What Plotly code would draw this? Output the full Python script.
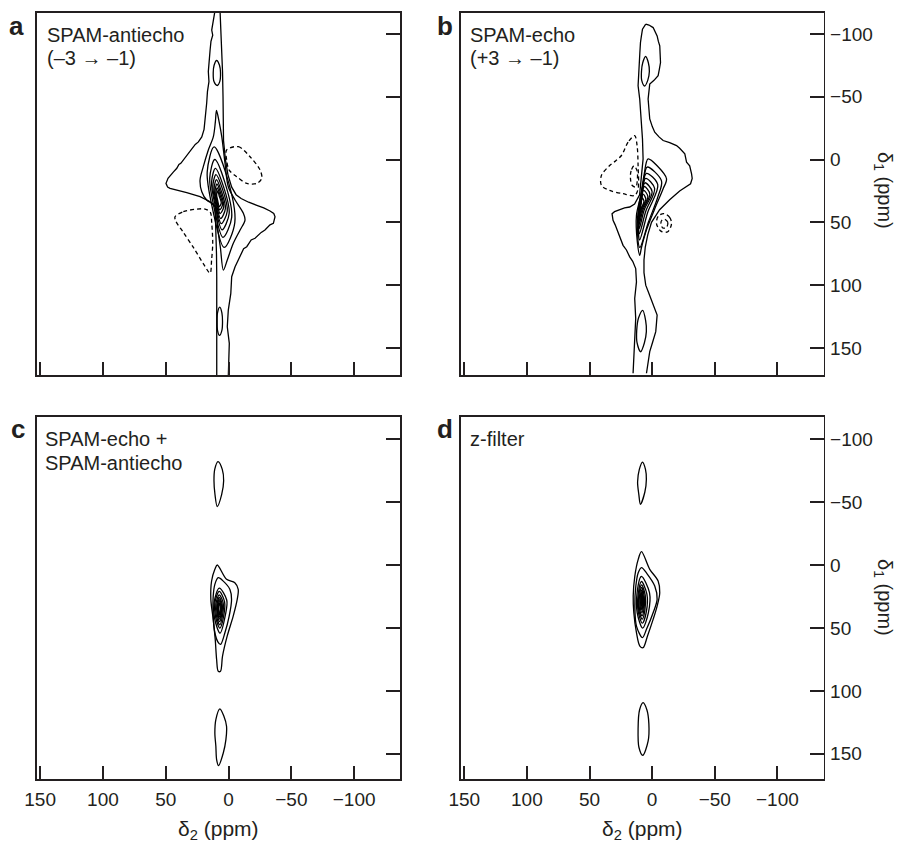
import plotly.graph_objects as go

# ---------------- axis ticks / labels ----------------
D2_TICKS = [150, 100, 50, 0, -50, -100]
D2_TICKTEXT = ["150", "100", "50", "0", "\u221250", "\u2212100"]
D1_TICKS = [-100, -50, 0, 50, 100, 150]
D1_TICKTEXT = ["\u2212100", "\u221250", "0", "50", "100", "150"]

PANEL_LETTERS = ["a", "b", "c", "d"]
PANEL_TEXT = [["SPAM-antiecho", "(\u20133 \u2192 \u20131)"],
              ["SPAM-echo", "(+3 \u2192 \u20131)"],
              ["SPAM-echo +", "SPAM-antiecho"],
              ["z-filter"]]
X_TITLE = "\u03b4<sub>2</sub> (ppm)"
Y_TITLE = "\u03b4<sub>1</sub> (ppm)"

# ---------------- contour traces, (delta2, delta1) in ppm ----------------
# Panel a : SPAM-antiecho
A_OUTER_LEFT = [(10.7, -119), (12.5, -110), (13.4, -103), (12.6, -99), (14.0, -94), (14.7, -87),
                (15.2, -80), (16.1, -70), (15.6, -62), (16.8, -54), (17.4, -45), (18.0, -38),
                (18.7, -31), (19.5, -24), (21.3, -18), (24.0, -14), (26.5, -12), (28.0, -10),
                (31.0, -6), (32.5, -4), (34.6, -1), (38.0, 3), (39.5, 4), (41.2, 7), (44.0, 10),
                (46.6, 13.7), (48.2, 15), (49.8, 19), (48.5, 22), (46.6, 23), (40.0, 24.5),
                (33.3, 26.4), (22.7, 29.6), (14.7, 33.6), (10.7, 37.6), (10.0, 53.5),
                (9.6, 75), (9.4, 93), (9.4, 133), (9.4, 173)]
A_OUTER_RIGHT = [(6.8, -119), (5.8, -100), (5.4, -88), (4.8, -70), (4.4, -50), (4.1, -30),
                 (4.0, -15), (2.5, 0), (0.5, 12), (-2.5, 22), (-6.0, 28), (-10.0, 31),
                 (-16.0, 34), (-22.5, 36.5), (-28.0, 38.5), (-33.0, 41), (-36.0, 43), (-37.0, 45.5),
                 (-35.7, 50.8), (-33.0, 52), (-29.0, 56.1), (-26.0, 58), (-21.1, 62.7), (-18.0, 64),
                 (-14.5, 69.4), (-12.0, 71), (-9.2, 77.4), (-5.2, 85.4), (-2.5, 93.3), (-1.8, 106.5),
                 (0.2, 119.8), (1.0, 133.1), (-0.6, 146.3), (0.2, 162.3), (0.2, 173)]
A_SIDEBANDS = [
    [(9.5, -78.8), (11.5, -75), (12.2, -69), (11.6, -62), (9.0, -58.9), (7.0, -62), (6.4, -69), (7.2, -75)],
    [(7.0, 117.5), (8.8, 122), (9.1, 129), (8.8, 136), (7.2, 140), (5.3, 136), (4.8, 129), (5.3, 122)],
]
A_CORE = [
    [(9.6, -39), (10.5, -30), (12.1, -18.2), (16.1, -7.6), (20.1, 5.7), (22.7, 16.3), (21.3, 25.6),
     (17.4, 32.2), (10.5, 37), (8.8, 53.5), (6.5, 70), (4.1, 88), (1.0, 80), (-3.8, 66.7),
     (-9.2, 56.1), (-13.1, 48.2), (-11.8, 42.8), (-5.2, 32.2), (0.2, 21.7), (2.8, 3.0),
     (5.4, -18.2), (7.5, -30)],
    [(11.5, -10), (17.0, 10), (13.0, 38), (3.5, 70), (-5.0, 50), (1.8, 12)],
    [(11.0, 0), (15.0, 15), (12.0, 36), (4.5, 62), (-2.5, 46), (3.0, 18)],
    [(10.5, 7), (13.5, 18), (11.0, 35), (5.2, 56), (-0.5, 43), (4.2, 21)],
    [(10.0, 12), (12.5, 21), (10.5, 34), (5.8, 51), (1.0, 41), (5.0, 23)],
    [(9.6, 16), (11.5, 23), (10.0, 33.5), (6.3, 47), (2.5, 39), (5.8, 25)],
    [(9.2, 19.5), (10.8, 25), (9.6, 33), (6.7, 43), (3.8, 37.5), (6.4, 26.5)],
    [(8.9, 22.5), (10.1, 26.5), (9.2, 32.5), (7.0, 40), (4.8, 36), (6.9, 28)],
    [(8.6, 25), (9.5, 28), (8.8, 32), (7.3, 37.5), (5.8, 34.5), (7.3, 29.5)],
]
A_NEGATIVE = [
    [(1.5, -7.6), (-7.8, -10.2), (-17.1, -2.2), (-25.1, 8.4), (-26.4, 15), (-22.5, 19),
     (-14.5, 19), (-6.5, 13.7), (-0.5, 8.4), (1.5, 0.4)],
    [(42.6, 45.5), (36.0, 41.5), (30.7, 40.2), (18.7, 39.4), (14.5, 42.0), (13.4, 50.6),
     (12.6, 66.5), (13.5, 80), (14.7, 90.4), (20.0, 83), (28.0, 70), (36.0, 58), (42.0, 49)],
]

# Panel b : SPAM-echo
B_OUTER_LEFT = [(5.1, -107.7), (7.7, -103.7), (8.6, -98), (9.3, -93.1), (9.8, -85), (10.4, -74.6),
                (10.8, -66), (11.2, -58.7), (9.9, -48.1), (8.5, -32.3), (7.7, -16.4), (7.2, -0.5),
                (8.5, 15), (10.0, 28), (14.0, 35.5), (17.9, 37.8), (22.0, 38.5), (27.2, 40.5),
                (30.0, 41.5), (32.0, 43.1), (31.2, 48.4), (29.5, 52), (27.2, 57.7), (25.5, 62),
                (23.2, 68.3), (20.5, 72), (17.9, 77.5), (15.5, 81), (13.1, 86.8), (12.5, 97.4),
                (13.9, 110.6), (13.1, 126.5), (13.9, 144.9), (15.2, 170.1)]
B_OUTER_RIGHT = [(5.1, -107.7), (2.5, -107), (-0.8, -105), (-2.5, -101), (-4.0, -98.4), (-5.0, -94),
                 (-6.1, -90.5), (-6.4, -84), (-6.7, -77.2), (-5.8, -72), (-4.8, -66.7), (-1.5, -63),
                 (1.9, -60), (3.2, -48.1), (2.6, -40), (1.9, -32.3), (-0.2, -26), (-2.1, -21.7),
                 (-5.5, -18), (-8.8, -15.1), (-14.0, -13.5), (-19.5, -11.1), (-22.0, -9),
                 (-26.1, -4.5), (-27.5, 2.1), (-30.0, 5), (-31.5, 11.4), (-32.0, 15), (-30.7, 19.3),
                 (-22.0, 25), (-14.0, 32), (-6.0, 40), (0.5, 50), (3.5, 60), (5.5, 70), (6.5, 80),
                 (6.5, 90), (5.1, 100), (2.0, 108), (-0.8, 115.9), (-4.0, 123.8), (-3.5, 130),
                 (-2.9, 137), (-0.5, 145), (1.9, 152.9), (4.5, 170.1)]
B_SIDEBANDS = [
    [(5.2, -82), (7.5, -77), (8.5, -70), (8.3, -63), (6.0, -58.5), (3.5, -63), (2.2, -70), (3.0, -77)],
    [(7.5, 120), (10.8, 126), (12.3, 136), (12.0, 146), (9.2, 153), (6.2, 146), (4.6, 137), (5.2, 128)],
]
B_CORE = [
    [(3.2, -0.5), (6.5, 12.7), (9.0, 28.6), (12.5, 44.4), (11.8, 65.6), (9.9, 76.2), (8.5, 70),
     (4.5, 56), (-2.1, 39.2), (-8.8, 23.3), (-11.5, 15.3), (-4.0, 5)],
    [(4.0, 6), (6.9, 18), (10.8, 38), (11.8, 55), (9.8, 70), (3.0, 50), (-4.5, 30), (-7.5, 17)],
    [(4.6, 11), (8.3, 26), (11.0, 50), (10.0, 64), (3.5, 42), (-4.5, 20)],
    [(5.2, 15), (8.4, 29), (10.8, 47), (10.2, 59), (5.0, 41), (-2.0, 23)],
    [(5.8, 18.5), (8.6, 31), (10.6, 45), (10.3, 55), (6.3, 40), (0.0, 25.5)],
    [(6.3, 21.5), (8.8, 32.5), (10.4, 44), (10.4, 52), (7.3, 40), (1.8, 27.5)],
    [(6.8, 24.5), (8.9, 34), (10.3, 43), (10.4, 49), (8.1, 40), (3.4, 29.5)],
    [(7.3, 27.5), (9.0, 35), (10.1, 42), (10.3, 46.5), (8.8, 40), (5.0, 31.5)],
    [(7.8, 30.5), (9.0, 36), (9.9, 41), (10.1, 44), (9.3, 40), (6.5, 33.5)],
]
B_NEGATIVE = [
    [(13.9, -19), (19.2, -13.8), (24.5, -3.2), (29.0, 1), (33.9, 4.8), (40.5, 12.7), (40.5, 20.6),
     (33.9, 24.6), (23.2, 27.2), (13.9, 28.6), (11.2, 23.3), (11.2, 4.8), (12.0, -11.1)],
    [(14.5, 5), (16.8, 9), (17.3, 15), (16.0, 20.5), (13.0, 22), (11.8, 16), (12.0, 9)],
    [(-9.5, 43), (-14.0, 46), (-15.5, 51), (-12.5, 57.5), (-7.0, 57), (-3.5, 51), (-5.0, 45)],
    [(-10.0, 47.5), (-12.5, 50), (-11.5, 54), (-8.5, 54.5), (-7.0, 51), (-8.0, 48)],
]

# Panel c : SPAM-echo + SPAM-antiecho
C_SIDEBANDS = [
    [(8.4, -82.2), (11.0, -76), (11.6, -67), (10.8, -56), (9.0, -46.5), (5.5, -56), (3.9, -67), (5.0, -76)],
    [(6.9, 114.3), (10.1, 122.8), (10.9, 133.4), (10.1, 144), (9.5, 154.6), (8.0, 159.4),
     (4.2, 149.3), (2.1, 138.7), (1.6, 128.1), (3.7, 120.2)],
]
C_CORE = [
    [(9.0, 0), (10.9, 3.4), (13.5, 12.7), (14.1, 27.3), (12.2, 43.2), (10.6, 59.2), (9.5, 75.1),
     (8.2, 84.4), (6.4, 84.4), (4.8, 72.4), (1.1, 56.5), (-3.7, 40.6), (-6.9, 27.3), (-7.7, 19.4),
     (-5.0, 14.1), (1.6, 11.4)],
    [(8.2, 10.1), (10.9, 15.4), (12.2, 24.7), (12.2, 40.6), (10.9, 53.8), (8.5, 61), (6.4, 63.1),
     (2.9, 53.8), (-0.5, 40.6), (-2.4, 27.3), (-1.1, 19.4), (4.0, 13.0)],
    [(7.4, 18.4), (11.6, 30), (11.2, 42), (6.8, 54.1), (2.6, 40), (1.4, 28)],
    [(7.4, 21), (10.9, 30), (10.4, 41), (6.9, 50.1), (3.8, 40), (3.2, 29)],
    [(7.4, 23.7), (10.1, 31), (9.7, 40), (7.0, 47.5), (4.7, 39.5), (4.3, 30)],
    [(7.3, 25.8), (9.3, 31.5), (9.0, 39), (7.1, 44.9), (5.4, 39), (5.1, 31)],
    [(7.3, 27.6), (8.8, 32), (8.6, 38.5), (7.1, 43), (5.9, 38.5), (5.6, 32)],
    [(7.3, 29), (8.3, 32.5), (8.2, 38), (7.2, 41.4), (6.3, 38), (6.1, 32.5)],
    [(7.3, 30.3), (7.9, 33), (7.8, 37), (7.2, 39.6), (6.7, 37), (6.6, 33)],
]

# Panel d : z-filter
D_SIDEBANDS = [
    [(7.7, -81.8), (10.2, -76), (11.6, -66), (10.6, -56), (9.3, -48.3), (5.8, -58), (4.6, -68), (5.3, -76)],
    [(7.2, 109.4), (10.0, 115), (11.2, 130), (10.5, 145), (7.5, 151.2), (3.2, 140), (2.6, 126), (4.2, 115)],
]
D_CORE = [
    [(8.5, -10.6), (11.1, -4.5), (13.8, 8.7), (15.1, 24.6), (14.6, 37.9), (12.5, 53.8), (9.8, 64.4),
     (7.2, 65.7), (3.7, 56.4), (-0.8, 43.2), (-4.0, 32.6), (-6.1, 22), (-4.8, 12.7), (1.9, 3.4)],
    [(8.5, 2), (11.1, 6.1), (13.0, 16.7), (13.8, 32.6), (12.5, 48.5), (7.7, 57.7), (4.5, 51.1),
     (-0.8, 37.9), (-4.0, 27.3), (-2.1, 16.7), (4.0, 7)],
    [(8.6, 9.1), (12.0, 22), (11.9, 38), (7.6, 50.1), (3.0, 38), (2.1, 22)],
    [(8.5, 13.1), (11.1, 23), (11.1, 37), (7.8, 46.2), (4.6, 37), (4.2, 23)],
    [(8.4, 15.7), (10.6, 24), (10.6, 36), (7.9, 43), (5.8, 36), (5.5, 24)],
    [(8.4, 17.8), (10.1, 25), (10.1, 35), (8.0, 40.4), (6.5, 35), (6.3, 25)],
    [(8.3, 19.7), (9.5, 26), (9.5, 33.5), (8.1, 37.7), (7.0, 33.5), (6.9, 26)],
    [(8.3, 21.5), (9.0, 26.5), (9.0, 32.5), (8.1, 35.6), (7.5, 32.5), (7.4, 26.5)],
    [(8.2, 23.1), (8.6, 27), (8.6, 31), (8.1, 33.4), (7.8, 31), (7.7, 27)],
]

# ---------------- figure ----------------
W, H = 899, 845
FONT = "Liberation Sans, Arial, Helvetica, sans-serif"
INK = "#231f20"

fig = go.Figure()

def add_line(pts, ax, closed=False, dashed=False, smooth=True):
    if closed:
        pts = list(pts) + [pts[0]]
    fig.add_trace(go.Scatter(
        x=[p[0] for p in pts], y=[p[1] for p in pts],
        mode="lines", xaxis=ax[0], yaxis=ax[1],
        line=dict(color="black", width=1.3,
                  dash="4px,3px" if dashed else "solid",
                  shape="spline" if smooth else "linear",
                  smoothing=0.9 if smooth else 0),
        hoverinfo="skip", showlegend=False))

AX = {"a": ("x", "y"), "b": ("x2", "y2"), "c": ("x3", "y3"), "d": ("x4", "y4")}

add_line(A_OUTER_LEFT, AX["a"], smooth=False)
add_line(A_OUTER_RIGHT, AX["a"], smooth=False)
for c in A_SIDEBANDS + A_CORE:
    add_line(c, AX["a"], closed=True)
for c in A_NEGATIVE:
    add_line(c, AX["a"], closed=True, dashed=True)

add_line(B_OUTER_LEFT, AX["b"], smooth=False)
add_line(B_OUTER_RIGHT, AX["b"], smooth=False)
for c in B_SIDEBANDS + B_CORE:
    add_line(c, AX["b"], closed=True)
for c in B_NEGATIVE:
    add_line(c, AX["b"], closed=True, dashed=True)

for c in C_SIDEBANDS + C_CORE:
    add_line(c, AX["c"], closed=True)

for c in D_SIDEBANDS + D_CORE:
    add_line(c, AX["d"], closed=True)

def px(v):
    return v / W

def py(v):
    return 1 - v / H

XDOM_L = [px(37), px(400)]
XDOM_R = [px(460.5), px(823.7)]
YDOM_T = [py(375), py(12.5)]
YDOM_B = [py(779), py(416.5)]

def xaxis(dom, rng, labels, anchor):
    return dict(domain=dom, range=rng, anchor=anchor, showgrid=False, zeroline=False,
                showline=True, mirror=True, linecolor=INK, linewidth=1.6,
                ticks="inside", ticklen=13, tickwidth=2, tickcolor=INK,
                tickvals=D2_TICKS, ticktext=D2_TICKTEXT, showticklabels=labels,
                ticklabelstandoff=3, tickfont=dict(family=FONT, size=19, color=INK))

def yaxis(dom, rng, labels, anchor):
    return dict(domain=dom, range=rng, anchor=anchor, side="right", showgrid=False,
                zeroline=False, showline=True, mirror=True, linecolor=INK, linewidth=1.6,
                ticks="inside", ticklen=14, tickwidth=2, tickcolor=INK,
                tickvals=D1_TICKS, ticktext=D1_TICKTEXT, showticklabels=labels,
                ticklabelstandoff=1, tickfont=dict(family=FONT, size=19, color=INK))

fig.update_layout(
    width=W, height=H, margin=dict(l=0, r=0, t=0, b=0, autoexpand=False),
    paper_bgcolor="white", plot_bgcolor="white",
    font=dict(family=FONT, size=19, color=INK),
    xaxis=xaxis(XDOM_L, [152.5, -136.5], False, "y"),
    yaxis=yaxis(YDOM_T, [171.5, -117], False, "x"),
    xaxis2=xaxis(XDOM_R, [153, -137], False, "y2"),
    yaxis2=yaxis(YDOM_T, [171.5, -117], True, "x2"),
    xaxis3=xaxis(XDOM_L, [152.5, -136.5], True, "y3"),
    yaxis3=yaxis(YDOM_B, [170, -118], False, "x3"),
    xaxis4=xaxis(XDOM_R, [153, -137], True, "y4"),
    yaxis4=yaxis(YDOM_B, [170, -118], True, "x4"),
)

ann = []
def text(t, x, ycenter, size=20, bold=False, angle=0, xanchor="left"):
    ann.append(dict(text=("<b>%s</b>" % t) if bold else t, x=px(x), y=py(ycenter),
                    xref="paper", yref="paper", xanchor=xanchor, yanchor="middle",
                    showarrow=False, textangle=angle,
                    font=dict(family=FONT, size=size, color=INK)))

LETTER_POS = [(7, 26), (435, 26), (8.5, 429.5), (435, 428.5)]
for letter, (lx, ly) in zip(PANEL_LETTERS, LETTER_POS):
    text(letter, lx, ly, size=26, bold=True)

TEXT_POS = [(44.5, [34.8, 58.2]), (467.5, [34.8, 58.2]), (43, [439.2, 463.2]), (467.5, [438.9])]
for lines, (tx, tys) in zip(PANEL_TEXT, TEXT_POS):
    for line, ty in zip(lines, tys):
        text(line, tx, ty)

text(X_TITLE, 218.5, 830, size=21, xanchor="center")
text(X_TITLE, 642, 830, size=21, xanchor="center")
text(Y_TITLE, 884, 190, size=20, angle=90, xanchor="center")
text(Y_TITLE, 884, 597, size=20, angle=90, xanchor="center")

fig.update_layout(annotations=ann)
fig.write_html("out.html", config={"displayModeBar": False, "staticPlot": True},
               post_script="document.body.style.margin='0px';document.body.style.padding='0px';")
